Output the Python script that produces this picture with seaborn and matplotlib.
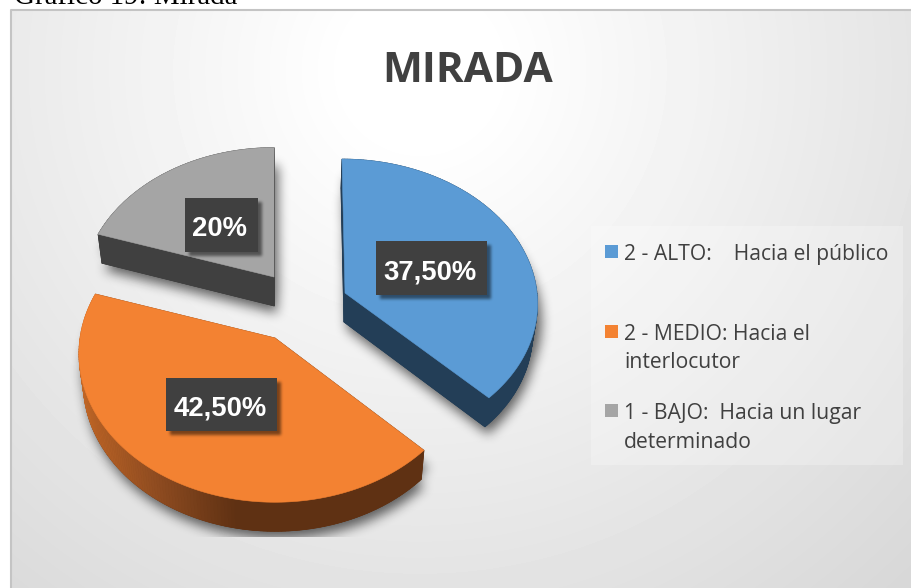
import matplotlib
matplotlib.use("Agg")
import matplotlib.pyplot as plt
import seaborn as sns
import numpy as np
from matplotlib.patches import Rectangle
from matplotlib.path import Path

# data
values = [37.5, 42.5, 20.0]
slice_labels = ['37,50%', '42,50%', '20%']
legend_lines = [['2 - ALTO:    Hacia el público'],
                ['2 - MEDIO: Hacia el', 'interlocutor'],
                ['1 - BAJO:  Hacia un lugar', 'determinado']]
title = 'MIRADA'
caption = 'Gráfico 19: Mirada'

# styles
top_colors = sns.color_palette(['#5b9bd5', '#f38232', '#a5a5a5'])
wall_colors = ['#233e57', '#5f3113', '#404040']

# layout, all in image pixels
apex = [(345, 293), (275, 338), (274, 277)]
skew = [-3, 0, 0]
radius_x = [192, 195, 191]
radius_y = [142, 147, 143]
persp = [0.06, 0.105, 0.105]
label_boxes = [(376, 241, 111, 54), (166, 378, 111, 53), (185, 198, 73, 54)]
legend_marker_y = [245, 325, 404]
legend_baselines = [[260], [340, 368], [419, 448]]
DEPTH = 29
CONVERGE_X = 291
CONVERGE = 0.02
W, H = 912, 588

sns.set_theme(style='white')
plt.rcParams['font.family'] = ['Open Sans', 'DejaVu Sans']

fig = plt.figure(figsize=(9.12, 5.88), dpi=100)
ax = fig.add_axes([0, 0, 1, 1])

# background, soft radial gradient
gx, gy = np.meshgrid(np.arange(W) + 0.5, np.arange(H) + 0.5)
dist = np.hypot(gx - 420, gy - 70)
shade = np.clip(255 - 0.062 * np.clip(dist - 70, 0, None), 0, 255) / 255
ax.imshow(shade[10:, 12:], cmap='gray', vmin=0, vmax=1, extent=[12, W, H, 10],
          aspect='auto', zorder=0)
ax.set_xlim(0, W)
ax.set_ylim(H, 0)
ax.axis('off')
ax.plot([11.5, 11.5, W], [H, 9.5, 9.5], color='#c4c4c4', lw=1.5, zorder=1)

ax.text(14, 4, caption, family='Liberation Serif', fontsize=20.9, color='black',
        va='baseline', ha='left', zorder=10)
ax.text(468, 82, title, fontweight='bold', fontsize=30.5, color='#404040',
        ha='center', va='baseline', zorder=10)


def project(theta, i):
    # unit circle point to screen with some perspective
    u = np.cos(theta)
    v = np.sin(theta)
    s = 1 / (1 + persp[i] * v)
    return apex[i][0] + u * radius_x[i] * s + skew[i] * v, apex[i][1] - v * radius_y[i] * s


def drop(x, y):
    return x + (CONVERGE_X - x) * CONVERGE, y + DEPTH


def poly_mask(x, y):
    pts = np.column_stack([gx.ravel(), gy.ravel()])
    return Path(np.column_stack([x, y])).contains_points(pts).reshape(gx.shape).astype(float)


def blur(img, size, passes=3):
    kernel = np.ones(size) / size
    for _ in range(passes):
        img = np.apply_along_axis(np.convolve, 0, img, kernel, mode='same')
        img = np.apply_along_axis(np.convolve, 1, img, kernel, mode='same')
    return img


def draw_shadow(mask, strength, z):
    rgba = np.zeros((H, W, 4))
    rgba[..., 3] = np.clip(mask, 0, 1) * strength
    ax.imshow(rgba, extent=[0, W, H, 0], aspect='auto', zorder=z)
    ax.set_xlim(0, W)
    ax.set_ylim(H, 0)


shares = np.array(values) / sum(values)
ends = 90 - np.cumsum(shares) * 360
starts = np.r_[90, ends[:-1]]

faces = []
shadow = np.zeros((H, W))
for i in range(len(values)):
    th = np.radians(np.linspace(starts[i], ends[i], 160))
    rx, ry = project(th, i)
    tx = np.r_[apex[i][0], rx]
    ty = np.r_[apex[i][1], ry]
    bx, by = drop(tx, ty)
    faces.append((tx, ty, bx, by))
    shadow = np.maximum(shadow, poly_mask(tx + 4, ty + 18))
    shadow = np.maximum(shadow, poly_mask(bx + 3, by + 7))
shadow = blur(shadow, 11)
shadow[537:, :] = 0
draw_shadow(shadow, 0.6, 2)

# side walls and top faces
for i in range(len(values)):
    tx, ty, bx, by = faces[i]
    ax.fill(bx, by, color=wall_colors[i], lw=0.5, zorder=3)
    n = len(tx)
    for j in range(n):
        k = (j + 1) % n
        col = wall_colors[i]
        if i == 1:
            # orange wall fades from the left
            mid = (tx[j] + tx[k]) / 2
            r = np.interp(mid, [78, 160, 235], [0xc0, 0x8c, 0x5f]) / 255
            g = np.interp(mid, [78, 160, 235], [0x66, 0x4a, 0x31]) / 255
            b = np.interp(mid, [78, 160, 235], [0x26, 0x20, 0x13]) / 255
            col = (r, g, b)
        ax.fill([tx[j], tx[k], bx[k], bx[j]], [ty[j], ty[k], by[k], by[j]],
                color=col, lw=0.5, zorder=3)
    ax.fill(tx, ty, color=top_colors[i], lw=0.4, zorder=4)

# value labels
box_shadow = np.zeros((H, W))
for x0, y0, w, h in label_boxes:
    box_shadow[y0 + 4:y0 + h + 4, x0 + 4:x0 + w + 4] = 1
draw_shadow(blur(box_shadow, 3), 0.5, 5)
for i, txt in enumerate(slice_labels):
    x0, y0, w, h = label_boxes[i]
    ax.add_patch(Rectangle((x0, y0), w, h, color='#404040', lw=0, zorder=6))
    ax.text(x0 + w / 2 - 1.5, y0 + h / 2 + 11, txt, family='Liberation Sans', fontweight='bold',
            fontsize=19.8, color='white', ha='center', va='baseline', zorder=7)

# legend
ax.add_patch(Rectangle((591, 226), 312, 239, color='white', alpha=0.25, lw=0, zorder=5))
for i, lines in enumerate(legend_lines):
    ax.add_patch(Rectangle((605, legend_marker_y[i]), 13.5, 13, color=top_colors[i], lw=0, zorder=6))
    for line, base in zip(lines, legend_baselines[i]):
        ax.text(624, base, line, fontsize=15.2, color='#404040', ha='left', va='baseline', zorder=7)

fig.savefig('out.png', dpi=100)
